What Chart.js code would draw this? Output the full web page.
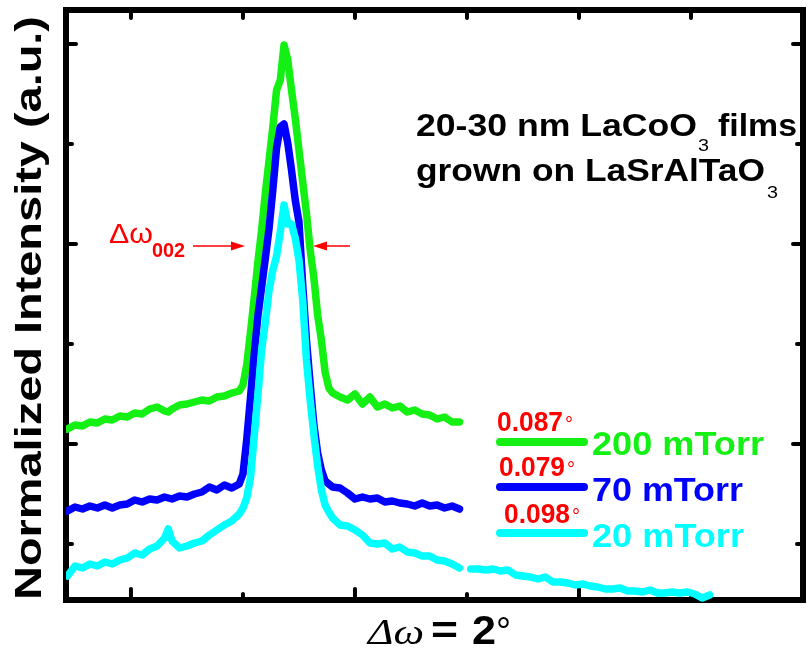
<!DOCTYPE html>
<html>
<head>
<meta charset="utf-8">
<title>LaCoO3 rocking curves</title>
<script src="https://cdn.jsdelivr.net/npm/chart.js@4.4.0/dist/chart.umd.min.js"></script>
<style>
  html, body { margin: 0; padding: 0; background: #fff; }
  #wrap { width: 808px; height: 652px; }
</style>
</head>
<body>
<div id="wrap"><canvas id="rockingChart" width="808" height="652"></canvas></div>
<script>
// omega offset (deg) for the scan, shared by all three films
const omega = [-0.17, -0.15, -0.13, -0.11, -0.09, -0.07, -0.05, -0.03, -0.01, 0.01, 0.03, 0.05, 0.07, 0.09, 0.10,
  0.11, 0.13, 0.15, 0.17, 0.19, 0.21, 0.23, 0.25, 0.27, 0.29,
  0.30, 0.31, 0.32, 0.33, 0.34, 0.35, 0.36, 0.37, 0.38, 0.39, 0.40, 0.41, 0.42, 0.43, 0.44,
  0.45, 0.46, 0.47, 0.48, 0.49, 0.50, 0.51, 0.52, 0.53, 0.54,
  0.56, 0.58, 0.60, 0.62, 0.64, 0.66, 0.68, 0.70, 0.72, 0.74, 0.76, 0.78, 0.80, 0.82, 0.84, 0.86, 0.88];

// normalized intensity, offset per film
const int200 = [2.15, 2.19, 2.18, 2.22, 2.21, 2.25, 2.24, 2.28, 2.27, 2.31, 2.30, 2.35, 2.37, 2.33, 2.32,
  2.35, 2.39, 2.40, 2.42, 2.44, 2.43, 2.47, 2.48, 2.51, 2.53,
  2.59, 2.79, 3.11, 3.46, 3.82, 4.14, 4.51, 4.84, 5.17, 5.54, 5.64, 5.99, 5.84, 5.54, 5.26,
  4.94, 4.62, 4.31, 3.94, 3.66, 3.29, 3.04, 2.72, 2.56, 2.51,
  2.47, 2.44, 2.50, 2.40, 2.47, 2.37, 2.40, 2.36, 2.38, 2.32, 2.34, 2.30, 2.29, 2.25, 2.27, 2.22, 2.22];

const int70 = [1.33, 1.37, 1.35, 1.38, 1.36, 1.39, 1.36, 1.39, 1.40, 1.44, 1.42, 1.45, 1.44, 1.47, 1.46,
  1.45, 1.48, 1.47, 1.50, 1.52, 1.57, 1.54, 1.59, 1.56, 1.60,
  1.70, 2.04, 2.46, 2.89, 3.28, 3.57, 3.86, 4.16, 4.54, 4.96, 5.17, 5.20, 5.01, 4.74, 4.44,
  4.22, 3.59, 3.04, 2.60, 2.19, 1.91, 1.74, 1.63, 1.60, 1.57,
  1.56, 1.51, 1.45, 1.47, 1.45, 1.46, 1.42, 1.43, 1.41, 1.40, 1.38, 1.41, 1.38, 1.39, 1.36, 1.38, 1.35];

const int20 = [0.68, 0.78, 0.76, 0.80, 0.78, 0.82, 0.80, 0.84, 0.86, 0.91, 0.89, 0.95, 0.98, 1.06, 1.15,
  1.03, 0.96, 0.98, 1.01, 1.03, 1.09, 1.14, 1.19, 1.23, 1.30,
  1.36, 1.46, 1.66, 2.07, 2.49, 2.94, 3.22, 3.54, 3.74, 3.88, 4.12, 4.39, 4.20, 4.20, 4.06,
  3.84, 3.44, 2.84, 2.44, 2.09, 1.78, 1.54, 1.39, 1.32, 1.26,
  1.19, 1.18, 1.14, 1.09, 1.01, 1.00, 1.01, 0.95, 0.97, 0.92, 0.91, 0.88, 0.88, 0.84, 0.83, 0.80, 0.76];

// the 20 mTorr scan runs further, as a second segment
const omegaTail = [0.91, 0.93, 0.95, 0.97, 0.99, 1.01, 1.03, 1.05, 1.07, 1.09, 1.11, 1.13, 1.15, 1.17, 1.19, 1.21,
  1.23, 1.25, 1.27, 1.29, 1.31, 1.33, 1.35, 1.37, 1.39, 1.41, 1.43, 1.45, 1.47, 1.49, 1.51, 1.53, 1.55];
const int20Tail = [0.75, 0.75, 0.74, 0.75, 0.73, 0.74, 0.69, 0.68, 0.67, 0.65, 0.67, 0.62, 0.62, 0.61, 0.59, 0.60,
  0.58, 0.57, 0.55, 0.55, 0.56, 0.53, 0.53, 0.52, 0.54, 0.51, 0.51, 0.52, 0.51, 0.52, 0.50, 0.46, 0.49];

const pressures = ['200 mTorr', '70 mTorr', '20 mTorr'];
const fwhm = ['0.087', '0.079', '0.098'];
const colors = ['#14f014', '#0000ff', '#00ffff'];

const xTicks = [0, 0.3, 0.6, 0.9, 1.2, 1.5, 1.8];
const xMajor = [0, 0.6, 1.2, 1.8];
const yTicks = [1, 2, 3, 4, 5, 6];
const yMajor = [2, 4, 6];

const SANS = '"Liberation Sans", Arial, sans-serif';

function points(xs, ys) {
    return xs.map((x, i) => ({ x: x, y: ys[i] }));
}

const scan20 = points(omega, int20).concat([{ x: 0.895, y: null }], points(omegaTail, int20Tail));

// draw text, squeezed/stretched horizontally to a given width
function fitText(ctx, str, x, y, font, width) {
    ctx.font = font;
    const w = ctx.measureText(str).width;
    ctx.save();
    ctx.translate(x, y);
    if (width) ctx.scale(width / w, 1);
    ctx.fillText(str, 0, 0);
    ctx.restore();
    return width || w;
}

function arrow(ctx, x1, x2, y) {
    const dir = Math.sign(x2 - x1);
    ctx.beginPath();
    ctx.moveTo(x1, y);
    ctx.lineTo(x2 - dir * 12, y);
    ctx.stroke();
    ctx.beginPath();
    ctx.moveTo(x2, y);
    ctx.lineTo(x2 - dir * 14, y - 4.5);
    ctx.lineTo(x2 - dir * 14, y + 4.5);
    ctx.closePath();
    ctx.fill();
}

// box frame with inward ticks, drawn under the curves
const framePlugin = {
    id: 'frame',
    beforeDatasetsDraw(chart) {
        const { ctx, chartArea: a, scales } = chart;
        ctx.save();
        ctx.strokeStyle = '#000';
        ctx.lineCap = 'round';
        ctx.lineWidth = 4;
        xTicks.forEach(v => {
            const px = scales.x.getPixelForValue(v);
            const len = xMajor.includes(v) ? 11 : 6;
            ctx.beginPath();
            ctx.moveTo(px, a.bottom);
            ctx.lineTo(px, a.bottom - len);
            ctx.moveTo(px, a.top);
            ctx.lineTo(px, a.top + 8);
            ctx.stroke();
        });
        yTicks.forEach(v => {
            const py = scales.y.getPixelForValue(v);
            const len = yMajor.includes(v) ? 10 : 6;
            ctx.beginPath();
            ctx.moveTo(a.left, py);
            ctx.lineTo(a.left + len, py);
            ctx.moveTo(a.right, py);
            ctx.lineTo(a.right - len, py);
            ctx.stroke();
        });
        ctx.lineCap = 'butt';
        ctx.lineWidth = 6;
        ctx.strokeRect(a.left, a.top, a.right - a.left, a.bottom - a.top);
        ctx.restore();
    }
};

// axis titles, annotation and the custom legend
const textPlugin = {
    id: 'texts',
    afterDraw(chart) {
        const ctx = chart.ctx;
        ctx.save();
        ctx.textBaseline = 'alphabetic';
        ctx.textAlign = 'left';
        ctx.fillStyle = '#000';

        ctx.save();
        ctx.translate(41, 600);
        ctx.rotate(-Math.PI / 2);
        fitText(ctx, 'Normalized Intensity (a.u.)', 0, 0, 'bold 37px ' + SANS, 584);
        ctx.restore();

        fitText(ctx, '\u0394\u03c9', 368, 644, 'italic 36px "Liberation Serif", serif', 56);
        fitText(ctx, '=', 431, 643, 'bold 38px ' + SANS, 27);
        fitText(ctx, '2', 472, 644, 'bold 40px ' + SANS, 24);
        fitText(ctx, '\u00b0', 496, 644, '38px ' + SANS, 15);

        fitText(ctx, '20-30 nm LaCoO', 416, 136, 'bold 32px ' + SANS, 281);
        fitText(ctx, '3', 698, 151, '17px ' + SANS, 11);
        fitText(ctx, 'films', 718, 136, 'bold 32px ' + SANS, 79);
        fitText(ctx, 'grown on LaSrAlTaO', 416, 181, 'bold 32px ' + SANS, 349);
        fitText(ctx, '3', 767, 198, '17px ' + SANS, 11);

        ctx.fillStyle = '#ff0000';
        ctx.strokeStyle = '#ff0000';
        ctx.lineWidth = 1.5;
        fitText(ctx, '\u0394\u03c9', 109, 243, '28px ' + SANS, 44);
        fitText(ctx, '002', 152, 257, 'bold 20px ' + SANS, 33);
        arrow(ctx, 193, 245, 246);
        arrow(ctx, 350, 313, 246);

        const rows = [
            { lineY: 442, textY: 455, numX: 497, numY: 431, w: 172 },
            { lineY: 487, textY: 501, numX: 499, numY: 476, w: 151 },
            { lineY: 533, textY: 547, numX: 504, numY: 523, w: 152 }
        ];
        rows.forEach((r, i) => {
            ctx.strokeStyle = colors[i];
            ctx.lineWidth = 8;
            ctx.lineCap = 'round';
            ctx.beginPath();
            ctx.moveTo(500, r.lineY);
            ctx.lineTo(584, r.lineY);
            ctx.stroke();
            ctx.fillStyle = colors[i];
            fitText(ctx, pressures[i], 592, r.textY, 'bold 34px ' + SANS, r.w);
            ctx.fillStyle = '#ff0000';
            fitText(ctx, fwhm[i], r.numX, r.numY, 'bold 27px ' + SANS, 66);
            fitText(ctx, '\u00b0', r.numX + 68, r.numY, '20px ' + SANS);
        });
        ctx.restore();
    }
};

const lineStyle = {
    borderWidth: 7.5,
    pointRadius: 0,
    tension: 0,
    fill: false,
    borderJoinStyle: 'round',
    borderCapStyle: 'round',
    spanGaps: false,
    clip: { left: 0, top: 6, right: 6, bottom: 6 }
};

new Chart(document.getElementById('rockingChart'), {
    type: 'line',
    data: {
        datasets: [
            Object.assign({ label: pressures[0], data: points(omega, int200), borderColor: colors[0], order: 3 }, lineStyle),
            Object.assign({ label: pressures[1], data: points(omega, int70), borderColor: colors[1], order: 2 }, lineStyle),
            Object.assign({ label: pressures[2], data: scan20, borderColor: colors[2], order: 1 }, lineStyle)
        ]
    },
    options: {
        responsive: false,
        animation: false,
        layout: { padding: { left: 66, top: 10, right: 5, bottom: 52 } },
        scales: {
            x: { type: 'linear', min: -0.174, max: 1.8, display: false },
            y: { type: 'linear', min: 0.44, max: 6.34, display: false }
        },
        plugins: {
            legend: { display: false },
            tooltip: { enabled: false }
        }
    },
    plugins: [framePlugin, textPlugin]
});
</script>
</body>
</html>
